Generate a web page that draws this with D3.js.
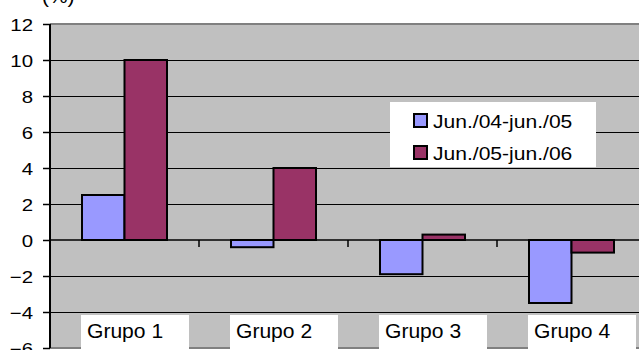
<!DOCTYPE html>
<html>
<head>
<meta charset="utf-8">
<script src="https://cdn.jsdelivr.net/npm/d3@7"></script>
<style>
  html, body { margin: 0; padding: 0; background: #fff; overflow: hidden; }
  svg { display: block; font-family: "Liberation Sans", Arial, sans-serif; }
</style>
</head>
<body>
<svg id="chart" width="639" height="350"></svg>
<script>
// ---- data ----
const categories = ["Grupo 1", "Grupo 2", "Grupo 3", "Grupo 4"];
const seriesNames = ["Jun./04-jun./05", "Jun./05-jun./06"];
const seriesA = [2.5, -0.4, -1.9, -3.5];
const seriesB = [10, 4, 0.3, -0.7];
const yTicks = [-6, -4, -2, 0, 2, 4, 6, 8, 10, 12];
const unitLabel = "(%)";

// ---- layout ----
const colors = ["#9999FF", "#993366"];
const plot = { left: 50, top: 24, right: 646, bottom: 348 };
const svg = d3.select("#chart");

const x0 = d3.scaleBand().domain(categories).range([plot.left, plot.right]).paddingInner(0).paddingOuter(0);
const x1 = d3.scaleBand().domain(seriesNames).range([0, x0.bandwidth()]).paddingInner(0).paddingOuter(0.753);
const y = d3.scaleLinear().domain([-6, 12]).range([plot.bottom, plot.top]);

// stretch helper (original chart was horizontally stretched)
function stretch(sel, k) {
  sel.each(function () {
    const w = this.getComputedTextLength();
    d3.select(this).attr("textLength", w * k).attr("lengthAdjust", "spacingAndGlyphs");
  });
}

// plot area
svg.append("rect")
  .attr("x", plot.left).attr("y", plot.top)
  .attr("width", plot.right - plot.left + 20).attr("height", plot.bottom - plot.top)
  .attr("fill", "#C0C0C0");

// gridlines
svg.append("g").selectAll("line")
  .data(yTicks.filter(v => v > -6 && v < 12 && v !== 0))
  .join("line")
  .attr("x1", plot.left).attr("x2", 660)
  .attr("y1", d => Math.round(y(d)) + 0.5).attr("y2", d => Math.round(y(d)) + 0.5)
  .attr("stroke", "#000").attr("stroke-width", 1);

// top/bottom borders (grey)
[plot.top, plot.bottom].forEach(v => {
  svg.append("line").attr("x1", plot.left).attr("x2", 660)
    .attr("y1", v).attr("y2", v)
    .attr("stroke", "#808080").attr("stroke-width", 2);
});

// bars
const data = categories.map((c, i) => ({ cat: c, vals: [seriesA[i], seriesB[i]] }));
const groups = svg.append("g").selectAll("g")
  .data(data).join("g")
  .attr("transform", d => `translate(${x0(d.cat)},0)`);
groups.selectAll("rect")
  .data(d => d.vals.map((v, j) => ({ name: seriesNames[j], v, j })))
  .join("rect")
  .attr("x", d => x1(d.name))
  .attr("width", x1.bandwidth())
  .attr("y", d => y(Math.max(0, d.v)))
  .attr("height", d => Math.abs(y(d.v) - y(0)))
  .attr("fill", d => colors[d.j])
  .attr("stroke", "#000").attr("stroke-width", 2);

// category axis line at zero
const xAxis = svg.append("g")
  .attr("transform", `translate(0,${y(0)})`)
  .call(d3.axisBottom(x0).tickSize(0).tickFormat(""));
xAxis.select(".domain").attr("stroke", "#000").attr("stroke-width", 1.5).attr("d", `M${plot.left},0H660`);
// tick marks at category boundaries
svg.append("g").selectAll("line")
  .data(categories.slice(1))
  .join("line")
  .attr("x1", d => x0(d)).attr("x2", d => x0(d))
  .attr("y1", y(0)).attr("y2", y(0) + 7)
  .attr("stroke", "#000").attr("stroke-width", 1.5);

// value axis
const yAxis = svg.append("g")
  .attr("transform", `translate(${plot.left},0)`)
  .call(d3.axisLeft(y).tickValues(yTicks).tickSize(7).tickPadding(10).tickFormat(d3.format("d")));
yAxis.select(".domain").attr("stroke", "#000").attr("stroke-width", 2).attr("d", `M0,${plot.top}V${plot.bottom}`);
yAxis.selectAll(".tick line").attr("stroke", "#000").attr("stroke-width", 1.5);
yAxis.selectAll(".tick text")
  .attr("font-family", "Liberation Sans, Arial, sans-serif")
  .attr("font-size", 17).attr("fill", "#000")
  .attr("dy", "0.36em")
  .call(stretch, 1.2);

// category labels (white boxes at bottom)
const labG = svg.append("g").selectAll("g")
  .data(categories).join("g")
  .attr("transform", d => `translate(${x0(d) + 31},315)`);
labG.append("rect").attr("width", 108).attr("height", 34).attr("fill", "#fff");
labG.append("text")
  .attr("x", 6).attr("y", 23)
  .attr("font-size", 19.5).attr("fill", "#000")
  .text(d => d)
  .call(stretch, 1.08);

// legend
const leg = svg.append("g").attr("transform", "translate(390,102)");
leg.append("rect").attr("width", 206).attr("height", 65).attr("fill", "#fff");
const items = leg.selectAll("g.item").data(seriesNames).join("g")
  .attr("class", "item")
  .attr("transform", (d, i) => `translate(0,${i * 32})`);
items.append("rect")
  .attr("x", 24).attr("y", 12).attr("width", 13).attr("height", 13)
  .attr("fill", (d, i) => colors[i]).attr("stroke", "#000").attr("stroke-width", 2);
items.append("text")
  .attr("x", 43).attr("y", 26)
  .attr("font-size", 18).attr("fill", "#000")
  .text(d => d)
  .call(stretch, 1.17);

// unit label
svg.append("text").attr("x", 42).attr("y", 3)
  .attr("font-size", 19).attr("fill", "#000")
  .text(unitLabel).call(stretch, 1.1);
</script>
</body>
</html>
